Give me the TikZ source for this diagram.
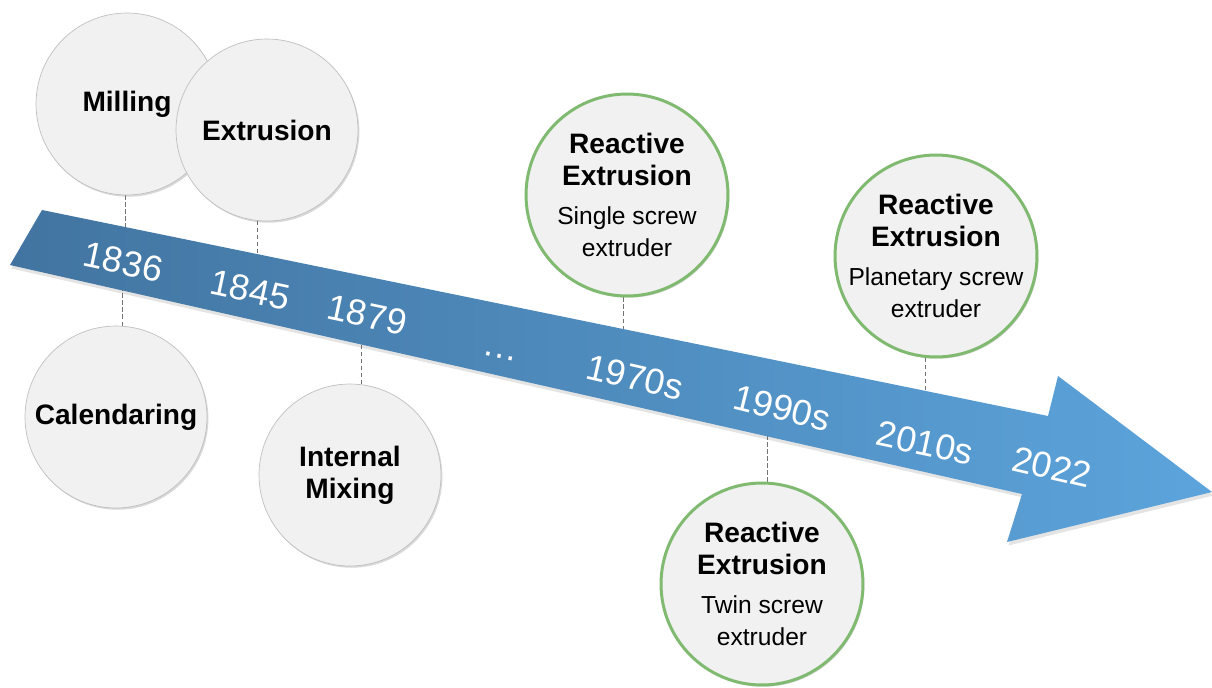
\documentclass[tikz,border=0pt]{standalone}
\usepackage{fontspec}
\setmainfont{Liberation Sans}
\usetikzlibrary{shadows}
\definecolor{bandDark}{RGB}{66,116,160}
\definecolor{bandLight}{RGB}{92,164,220}
\definecolor{ringGreen}{RGB}{128,186,112}
\definecolor{discFill}{RGB}{241,241,241}
\definecolor{discLine}{RGB}{192,192,192}
\newcommand{\subline}{\fontsize{14}{17}\selectfont\mdseries}
\pgfdeclarelayer{dashes}
\pgfdeclarelayer{band}
\pgfsetlayers{dashes,band,main}

\begin{document}
\begin{tikzpicture}[x=0.02cm,y=-0.02cm,
	disc/.style={circle,draw=discLine,fill=discFill,inner sep=0pt,minimum size=3.64cm,align=center,
		font=\fontsize{16}{18}\selectfont\bfseries,
		drop shadow={shadow xshift=0.8pt,shadow yshift=-1pt,opacity=0.25,fill=black!60}},
	rxdisc/.style={disc,draw=ringGreen,line width=1.7pt,inner sep=-8pt,minimum size=4.04cm},
	year/.style={text=white,font=\fontsize{20.5}{24}\selectfont,rotate=-12},
	guide/.style={draw=black!55,line width=0.5pt,dash pattern=on 2.5pt off 1.5pt}]
		\useasboundingbox (0,0) rectangle (1212,687);
		
		\node[disc] (mil) at (127,104) {Milling};
		\node[disc] (ext) at (267,130) {Extrusion};
		\node[disc] (cal) at (116,417) {Calendaring};
		\node[disc] (mix) at (350,475) {Internal\\Mixing};
		\node[rxdisc] (rx1) at (627,195) {Reactive\\Extrusion\\[4.5pt]\subline Single screw\\\subline extruder};
		\node[rxdisc] (rx2) at (936,256) {Reactive\\Extrusion\\[4.5pt]\subline Planetary screw\\\subline extruder};
		\node[rxdisc] (rx3) at (762,584) {Reactive\\Extrusion\\[4.5pt]\subline Twin screw\\\subline extruder};
		
		\node[year] (y1836) at (123,262) {1836};
		\node[year] (y1845) at (250,290) {1845};
		\node[year] (y1879) at (367,315) {1879};
		\node[year] (ydots) at (500,356) {…};
		\node[year,rotate=-1] (y1970) at (635,377) {1970s};
		\node[year,rotate=-2] (y1990) at (782,408) {1990s};
		\node[year] (y2010) at (925,443) {2010s};
		\node[year,rotate=-1] (y2022) at (1052,467) {2022};
		
		\begin{pgfonlayer}{dashes}
			\draw[guide] (mil.269)--(mil.269 |- y1836.center);
			\draw[guide] (cal.86)--(cal.86 |- y1836.center);
			\draw[guide] (ext.264)--(ext.264 |- y1845.center);
			\draw[guide] (mix.83)--(mix.83 |- y1879.center);
			\draw[guide] (rx1.268)--(rx1.268 |- y1970.center);
			\draw[guide] (rx3.87)--(rx3.87 |- y1990.center);
			\draw[guide] (rx2.264)--(rx2.264 |- y2010.center);
		\end{pgfonlayer}
		
		\begin{pgfonlayer}{band}
			\path[left color=bandDark,right color=bandLight,
				drop shadow={shadow xshift=0.8pt,shadow yshift=-2pt,opacity=0.15,fill=black!70}]
				(42,210)--(1048,416)--(1058,376)--(1212,492)--(1007,542)--(1022,494)--(10,265)--cycle;
		\end{pgfonlayer}
	\end{tikzpicture}
\end{document}
